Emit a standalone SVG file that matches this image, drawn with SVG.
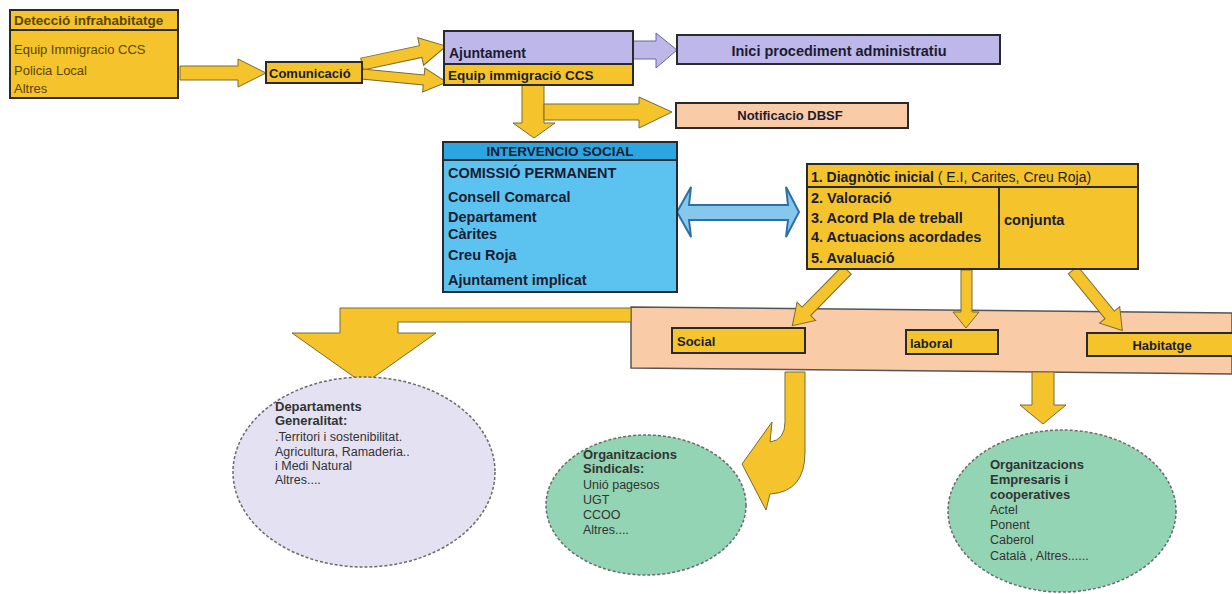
<svg xmlns="http://www.w3.org/2000/svg" width="1232" height="594" viewBox="0 0 1232 594">
<style>
text{font-family:"Liberation Sans",Arial,sans-serif;fill:#1c1c30}
.b{font-weight:bold}
.box{stroke:#2a2a2a;stroke-width:2}
.y{fill:#F5C42C}
.lav{fill:#BDB7EA}
.pch{fill:#F9CBA6}
.arr{fill:#F5C42C;stroke:#7a6a30;stroke-width:1}
.olive{fill:#5a4500}
.ell{stroke:#6a6a6a;stroke-width:1.5;stroke-dasharray:3 2}
.et{font-size:12.5px;fill:#333}
.et.b{font-size:13px}
</style>
<rect width="1232" height="594" fill="#ffffff"/>

<g id="band">
<polygon points="631,307 1232,313 1232,374 631,368" class="pch" stroke="#555" stroke-width="1.5"/>
</g>

<g id="connectors">
<polygon class="arr" points="180,66 238,66 238,59 266,73 238,87 238,80 180,80"/>
<polygon class="arr" transform="translate(362,64) rotate(-12)" points="0,-6 60,-6 60,-14 86,0 60,14 60,6 0,6"/>
<polygon class="arr" transform="translate(362,74) rotate(5.5)" points="0,-5 62,-5 62,-12 85,0 62,12 62,5 0,5"/>
<polygon points="633,41 656,41 656,33 677,50 656,68 656,59 633,59" fill="#BDB7EA" stroke="#6a66a0" stroke-width="1"/>
<polygon class="arr" points="522,85 544,85 544,123 555,123 534,138 513,123 522,123"/>
<polygon class="arr" points="544,104 639,104 639,97 672,112 639,128 639,120 544,120"/>
<polygon points="677,212 691,187 689,205 788,205 786,187 799,212 786,237 788,220 689,220 691,237" fill="#86C8EC" stroke="#2F6FA8" stroke-width="2"/>
<polygon class="arr" transform="translate(847,270) rotate(134.5)" points="0,-6 58,-6 58,-13 78,0 58,13 58,6 0,6"/>
<polygon class="arr" points="961,270 972,270 972,312 979,312 966,328 953,312 961,312"/>
<polygon class="arr" transform="translate(1073,270) rotate(50.8)" points="0,-6 58,-6 58,-13 78,0 58,13 58,6 0,6"/>
<polygon class="arr" points="631,308 340,308 340,333 292,333 364,384 436,333 398,333 398,322 631,322"/>
<path class="arr" d="M785,372 L805,372 L805,452 Q805,492 770,494 L766,510 L742,464 L772,422 L770,442 Q785,440 785,422 Z"/>
<polygon class="arr" points="1032,372 1054,372 1054,405 1066,405 1043,424 1020,405 1032,405"/>
</g>

<g id="deteccio">
<rect x="10" y="10" width="168" height="88" class="box y"/>
<line x1="10" y1="30" x2="178" y2="30" stroke="#2a2a2a" stroke-width="2"/>
<text x="14" y="25" class="b olive" font-size="13.5">Detecció infrahabitatge</text>
<text x="14" y="54" class="olive" font-size="13">Equip Immigracio CCS</text>
<text x="14" y="75" class="olive" font-size="13">Policia Local</text>
<text x="14" y="93" class="olive" font-size="13">Altres</text>
</g>

<g id="comunicacio">
<rect x="266" y="62" width="96" height="21" class="box y"/>
<text x="269" y="78" class="b" font-size="13">Comunicació</text>
</g>

<g id="ajuntament">
<rect x="444" y="31" width="189" height="33" class="box lav"/>
<text x="449" y="58" class="b" font-size="14">Ajuntament</text>
</g>

<g id="equip">
<rect x="444" y="64" width="189" height="21" class="box y"/>
<text x="448" y="80" class="b" font-size="13.5">Equip immigració CCS</text>
</g>

<g id="inici">
<rect x="677" y="35" width="323" height="29" class="box lav"/>
<text x="839" y="56" class="b" font-size="14.5" text-anchor="middle">Inici procediment administratiu</text>
</g>

<g id="notificacio">
<rect x="676" y="103" width="232" height="25" class="box pch"/>
<text x="790" y="120" class="b" font-size="13" text-anchor="middle">Notificacio DBSF</text>
</g>

<g id="intervencio">
<rect x="443" y="142" width="234" height="150" fill="#5CC3F0" class="box"/>
<rect x="444" y="143" width="232" height="17" fill="#2BA6E0"/>
<line x1="443" y1="160" x2="677" y2="160" stroke="#2a2a2a" stroke-width="2"/>
<text x="560" y="156" class="b" font-size="13.5" text-anchor="middle">INTERVENCIO SOCIAL</text>
<text x="448" y="178" class="b" font-size="14.5">COMISSIÓ PERMANENT</text>
<text x="448" y="202" class="b" font-size="14.5">Consell Comarcal</text>
<text x="448" y="222" class="b" font-size="14.5">Departament</text>
<text x="448" y="239" class="b" font-size="14.5">Càrites</text>
<text x="448" y="260" class="b" font-size="14.5">Creu Roja</text>
<text x="448" y="285" class="b" font-size="14.5">Ajuntament implicat</text>
</g>

<g id="diagnostic">
<rect x="807" y="164" width="331" height="105" class="box y"/>
<line x1="807" y1="187" x2="1138" y2="187" stroke="#2a2a2a" stroke-width="2"/>
<line x1="999" y1="187" x2="999" y2="269" stroke="#2a2a2a" stroke-width="2"/>
<text x="811" y="182" font-size="14"><tspan class="b">1. Diagnòtic inicial</tspan><tspan> ( E.I, Carites, Creu Roja)</tspan></text>
<text x="811" y="203" class="b" font-size="14.5">2. Valoració</text>
<text x="811" y="223" class="b" font-size="14.5">3. Acord Pla de treball</text>
<text x="811" y="242" class="b" font-size="14.5">4. Actuacions acordades</text>
<text x="811" y="263" class="b" font-size="14.5">5. Avaluació</text>
<text x="1004" y="225" class="b" font-size="14.5">conjunta</text>
</g>

<g id="social">
<rect x="672" y="328" width="133" height="25" class="box y"/>
<text x="677" y="346" class="b" font-size="13">Social</text>
</g>

<g id="laboral">
<rect x="906" y="330" width="92" height="24" class="box y"/>
<text x="910" y="348" class="b" font-size="13">laboral</text>
</g>

<g id="habitatge">
<rect x="1087" y="333" width="150" height="23" class="box y"/>
<text x="1162" y="350" class="b" font-size="13" text-anchor="middle">Habitatge</text>
</g>

<g id="departaments">
<ellipse cx="364" cy="472" rx="131" ry="95" fill="#E4E2F2" class="ell"/>
<text x="275" y="411" class="et b">Departaments</text>
<text x="275" y="425" class="et b">Generalitat:</text>
<text x="275" y="441" class="et">.Territori i sostenibilitat.</text>
<text x="275" y="456" class="et">Agricultura, Ramaderia..</text>
<text x="275" y="470" class="et">i Medi Natural</text>
<text x="275" y="484" class="et">Altres....</text>
</g>

<g id="sindicals">
<ellipse cx="646" cy="505" rx="100" ry="70" fill="#93D4B4" class="ell"/>
<text x="583" y="459" class="et b">Organitzacions</text>
<text x="583" y="473" class="et b">Sindicals:</text>
<text x="583" y="489" class="et">Unió pagesos</text>
<text x="583" y="504" class="et">UGT</text>
<text x="583" y="519" class="et">CCOO</text>
<text x="583" y="534" class="et">Altres....</text>
</g>

<g id="empresaris">
<ellipse cx="1062" cy="511" rx="114" ry="81" fill="#93D4B4" class="ell"/>
<text x="990" y="469" class="et b">Organitzacions</text>
<text x="990" y="484" class="et b">Empresaris i</text>
<text x="990" y="499" class="et b">cooperatives</text>
<text x="990" y="514" class="et">Actel</text>
<text x="990" y="529" class="et">Ponent</text>
<text x="990" y="544" class="et">Caberol</text>
<text x="990" y="560" class="et">Català , Altres......</text>
</g>
</svg>
